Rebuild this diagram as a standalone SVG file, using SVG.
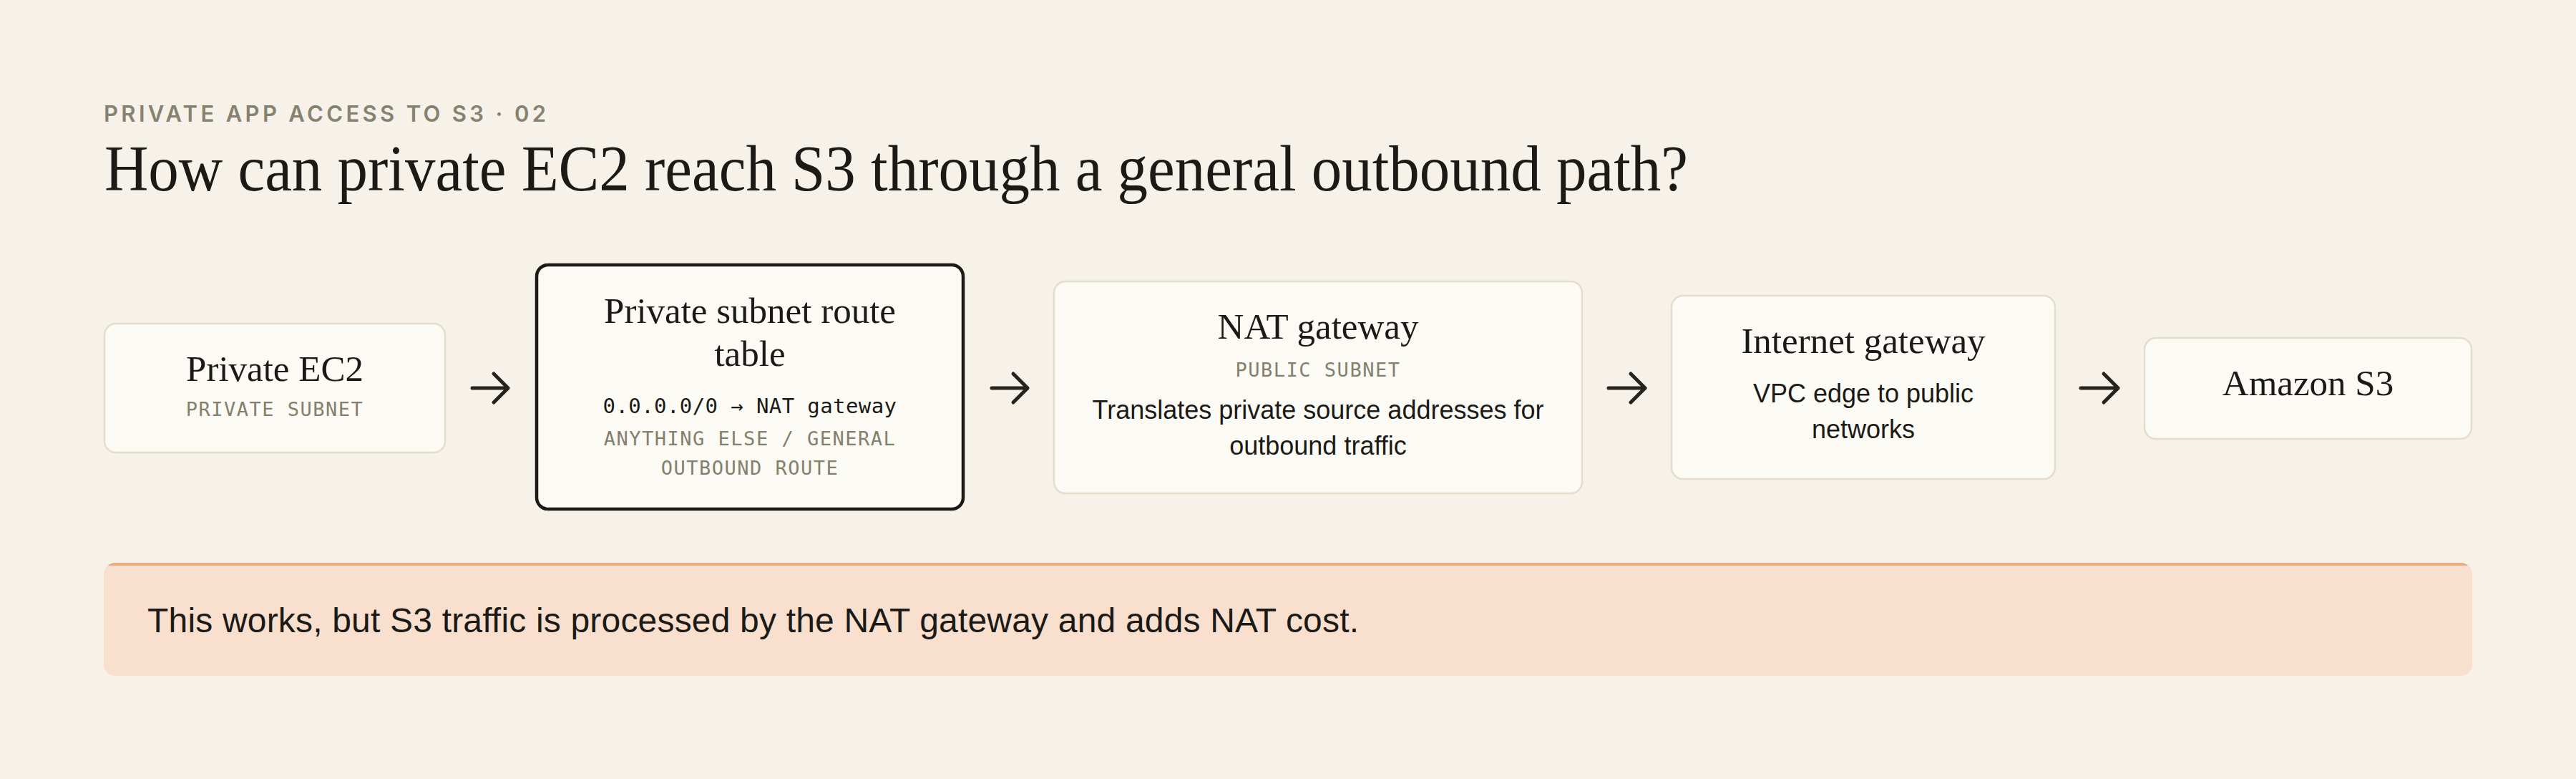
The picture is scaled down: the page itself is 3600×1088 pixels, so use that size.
<svg xmlns="http://www.w3.org/2000/svg" width="3600" height="1088" viewBox="0 0 3600 1088">
<defs>
<style>
.node{fill:#FBFAF5;stroke:#E5DDCB;stroke-width:2.5}
.focus{fill:#FBFAF5;stroke:#1B1A16;stroke-width:4.5}
.ttl{font-family:"Liberation Serif","DejaVu Serif",serif;font-size:51px;fill:#1B1A16;text-anchor:middle}
.mono{font-family:"DejaVu Sans Mono","Liberation Mono",monospace;font-size:27px;letter-spacing:1.5px;fill:#84806C;text-anchor:middle}
.monod{font-family:"DejaVu Sans Mono","Liberation Mono",monospace;font-size:29px;letter-spacing:0.4px;fill:#1B1A16;text-anchor:middle}
.body{font-family:"Liberation Sans",Arial,sans-serif;font-size:36px;fill:#1B1A16;text-anchor:middle}
.arrow{fill:none;stroke:#26231E;stroke-width:5;stroke-linecap:round;stroke-linejoin:round}
</style>
<clipPath id="calloutClip"><rect x="145" y="786" width="3310" height="158" rx="16"/></clipPath>
</defs>
<rect width="3600" height="1088" fill="#F6F2EA"/>
<text x="145" y="170" font-family="Inter,'Liberation Sans',sans-serif" font-size="31" font-weight="600" fill="#86826F" textLength="618" lengthAdjust="spacing">PRIVATE APP ACCESS TO S3 · 02</text>
<text x="146" y="266" font-family="'Liberation Serif','DejaVu Serif',serif" font-size="90" fill="#1B1A16" textLength="2213" lengthAdjust="spacingAndGlyphs">How can private EC2 reach S3 through a general outbound path?</text>

<g id="connectors">
<path class="arrow" d="M660 542H710M690 522L710 542L690 562"/>
<path class="arrow" d="M1386 542H1436M1416 522L1436 542L1416 562"/>
<path class="arrow" d="M2248 542H2299M2279 522L2299 542L2279 562"/>
<path class="arrow" d="M2908 542H2960M2940 522L2960 542L2940 562"/>
</g>

<g id="node-private-ec2">
<rect class="node" x="146" y="452" width="476" height="180" rx="16"/>
<text class="ttl" x="384" y="532">Private EC2</text>
<text class="mono" x="384" y="581">PRIVATE SUBNET</text>
</g>

<g id="node-route-table">
<rect class="focus" x="750" y="370" width="596" height="341" rx="16"/>
<text class="ttl" x="1048" y="451">Private subnet route</text>
<text class="ttl" x="1048" y="511">table</text>
<text class="monod" x="1048" y="577">0.0.0.0/0 → NAT gateway</text>
<text class="mono" x="1048" y="622">ANYTHING ELSE / GENERAL</text>
<text class="mono" x="1048" y="663">OUTBOUND ROUTE</text>
</g>

<g id="node-nat-gateway">
<rect class="node" x="1473" y="393" width="738" height="296" rx="16"/>
<text class="ttl" x="1842" y="473">NAT gateway</text>
<text class="mono" x="1842" y="526">PUBLIC SUBNET</text>
<text class="body" x="1842" y="585">Translates private source addresses for</text>
<text class="body" x="1842" y="635">outbound traffic</text>
</g>

<g id="node-internet-gateway">
<rect class="node" x="2336" y="413" width="536" height="256" rx="16"/>
<text class="ttl" x="2604" y="493">Internet gateway</text>
<text class="body" x="2604" y="562">VPC edge to public</text>
<text class="body" x="2604" y="612">networks</text>
</g>

<g id="node-amazon-s3">
<rect class="node" x="2997" y="472" width="457" height="141" rx="16"/>
<text class="ttl" x="3225.5" y="552">Amazon S3</text>
</g>

<g id="callout">
<g clip-path="url(#calloutClip)">
<rect x="145" y="786" width="3310" height="158" fill="#F9DFCD"/>
<rect x="145" y="786" width="3310" height="4" fill="#E9AD80"/>
</g>
<text x="206" y="883" font-family="'Liberation Sans',Arial,sans-serif" font-size="48" fill="#1B1A16" textLength="1693" lengthAdjust="spacing">This works, but S3 traffic is processed by the NAT gateway and adds NAT cost.</text>
</g>
</svg>
